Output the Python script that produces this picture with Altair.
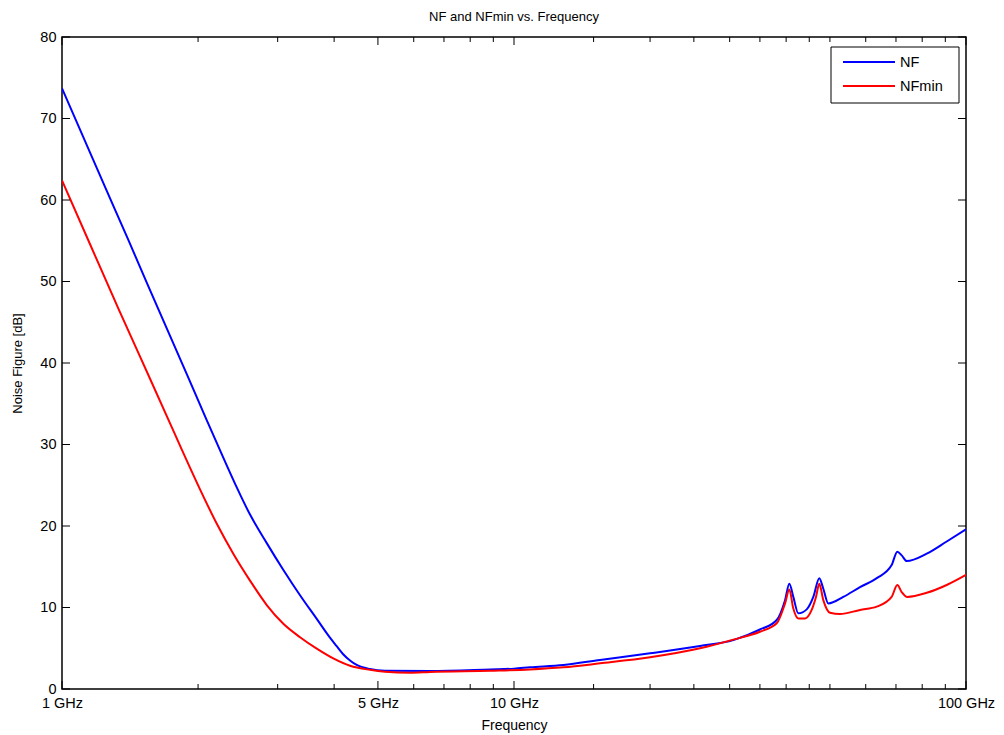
import altair as alt
import pandas as pd

# Frequency (GHz) and noise figure (dB)
nf_freq = [1.000, 1.245, 1.402, 1.539, 1.903, 2.090, 2.236, 2.414, 2.606, 2.838, 3.089, 3.362,
           3.661, 3.916, 4.053, 4.184, 4.337, 4.487, 4.801, 5.183, 6.52, 8.85, 10.0, 10.85,
           12.86, 15.50, 20.0, 25.79, 30.56, 35.01, 38.13, 39.78, 40.66, 41.49, 42.56, 44.42,
           45.94, 47.36, 48.34, 49.59, 53.52, 58.28, 63.47, 68.47, 70.47, 72.06, 73.92, 81.87,
           90.64, 100.0]
nf_vals = [73.7, 61.6, 55.1, 49.9, 38.2, 33.0, 29.3, 25.2, 21.4, 17.9, 14.6, 11.5,
           8.6, 6.3, 5.25, 4.3, 3.5, 2.95, 2.45, 2.25, 2.2, 2.4, 2.5, 2.66,
           2.94, 3.56, 4.38, 5.28, 6.0, 7.3, 8.47, 10.9, 12.9, 11.3, 9.28, 9.77,
           11.3, 13.6, 12.3, 10.5, 11.3, 12.5, 13.6, 15.2, 16.85, 16.4, 15.7, 16.6,
           18.1, 19.6]

nfmin_freq = [1.000, 1.153, 1.332, 1.565, 1.734, 1.840, 2.020, 2.199, 2.393, 2.606, 2.838, 3.088,
              3.362, 3.661, 3.983, 4.337, 4.801, 5.183, 5.888, 6.52, 8.85, 10.85, 12.86, 15.50,
              20.0, 25.79, 30.56, 35.01, 38.13, 39.78, 40.66, 41.49, 42.56, 44.04, 45.56, 46.57,
              47.36, 48.34, 50.02, 52.63, 58.28, 63.47, 68.47, 70.47, 72.06, 74.14, 81.87, 90.64,
              100.0]
nfmin_vals = [62.4, 54.6, 46.7, 38.1, 32.6, 29.4, 24.5, 20.3, 16.6, 13.3, 10.3, 8.0,
              6.35, 4.95, 3.75, 2.85, 2.35, 2.12, 2.0, 2.1, 2.25, 2.4, 2.66, 3.15,
              3.89, 4.99, 6.06, 7.03, 8.06, 10.5, 12.2, 9.87, 8.66, 8.66, 9.7, 11.3,
              12.9, 10.9, 9.35, 9.2, 9.7, 10.1, 11.3, 12.76, 11.9, 11.3, 11.8, 12.76,
              14.0]

series_names = ["NF", "NFmin"]
series_colors = ["#0000FF", "#FF0000"]

x_major = [1, 5, 10, 100]
x_minor = [2, 3, 4, 6, 7, 8, 9, 15, 20, 25, 30, 35, 40, 45, 50, 60, 70, 80, 90]
y_ticks = [0, 10, 20, 30, 40, 50, 60, 70, 80]

W, H = 904, 652
FONT = "Liberation Sans"

df = pd.concat([
    pd.DataFrame({"freq": nf_freq, "nf": nf_vals, "series": series_names[0]}),
    pd.DataFrame({"freq": nfmin_freq, "nf": nfmin_vals, "series": series_names[1]}),
])

xscale = alt.Scale(type="log", domain=[1, 100], nice=False)
yscale = alt.Scale(domain=[0, 80], nice=False, zero=False)

lines = alt.Chart(df).mark_line(strokeWidth=2, clip=True, interpolate="monotone").encode(
    x=alt.X("freq:Q", scale=xscale, title="Frequency",
            axis=alt.Axis(values=x_major, labelExpr="datum.value + ' GHz'",
                          labelPadding=7, titlePadding=9, labelFlush=False,
                          labelOverlap=False, titleFontSize=14)),
    y=alt.Y("nf:Q", scale=yscale, title="Noise Figure [dB]",
            axis=alt.Axis(values=y_ticks, labelPadding=6, titlePadding=15)),
    color=alt.Color("series:N",
                    scale=alt.Scale(domain=series_names, range=series_colors),
                    legend=None),
    order=alt.Order("freq:Q"),
)

def xtick_layer(vals, y0, y1):
    d = pd.DataFrame({"t": vals})
    return alt.Chart(d).mark_rule(color="black", strokeWidth=1).encode(
        x=alt.X("t:Q", scale=xscale), y=alt.value(y0), y2=alt.value(y1))

def ytick_layer(x0, x1):
    d = pd.DataFrame({"t": y_ticks})
    return alt.Chart(d).mark_rule(color="black", strokeWidth=1).encode(
        y=alt.Y("t:Q", scale=yscale), x=alt.value(x0), x2=alt.value(x1))

ticks = [
    xtick_layer(x_major, H, H - 8), xtick_layer(x_minor, H, H - 5),
    xtick_layer(x_major, 0, 8), xtick_layer(x_minor, 0, 5),
    ytick_layer(0, 8), ytick_layer(W, W - 8),
]

# legend box (drawn manually, MATLAB style)
leg_box = alt.Chart(pd.DataFrame({"a": [0]})).mark_rect(
    fill="white", stroke="black", strokeWidth=1).encode(
    x=alt.value(769), x2=alt.value(897), y=alt.value(10), y2=alt.value(66))
leg_items = []
for i, (name, col) in enumerate(zip(series_names, series_colors)):
    yy = 25 + 24 * i
    sub = pd.DataFrame({"series": [name]})
    leg_items.append(alt.Chart(sub).mark_rule(color=col, strokeWidth=2).encode(
        x=alt.value(781), x2=alt.value(833), y=alt.value(yy)))
    leg_items.append(alt.Chart(sub).mark_text(
        align="left", baseline="middle", font=FONT, fontSize=14.5, color="black").encode(
        x=alt.value(838), y=alt.value(yy + 1), text="series:N"))

chart = alt.layer(lines, *ticks, leg_box, *leg_items).properties(
    width=W, height=H,
    title=alt.TitleParams("NF and NFmin vs. Frequency", font=FONT, fontSize=13,
                          fontWeight="normal", color="black", offset=5),
    autosize=alt.AutoSizeParams(type="none"),
    padding={"left": 62, "top": 37, "right": 38, "bottom": 46},
    background="white",
).configure_axis(
    labelFont=FONT, labelFontSize=14.5, labelColor="black",
    titleFont=FONT, titleFontSize=13, titleFontWeight="normal", titleColor="black",
    grid=False, ticks=False, domain=False,
).configure_view(stroke="black", strokeWidth=1.5)

chart.save("out.html", embed_options={"renderer": "svg", "actions": False})
